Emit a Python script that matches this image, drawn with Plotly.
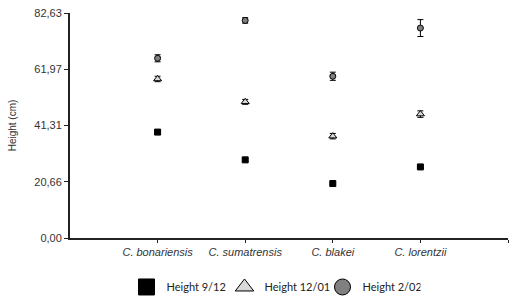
import plotly.graph_objects as go

categories = ["C. bonariensis", "C. sumatrensis", "C. blakei", "C. lorentzii"]
cat_pos = [1, 2, 3, 4]

h_912 = [38.9, 28.7, 20.0, 26.1]
h_912_err = [0.5, 0.5, 0.4, 0.4]
h_1201 = [58.4, 50.0, 37.4, 45.5]
h_1201_err = [1.0, 0.9, 1.0, 1.2]
h_202 = [66.0, 79.9, 59.4, 77.1]
h_202_err = [1.3, 1.0, 1.5, 3.1]

y_tickvals = [0, 20.66, 41.31, 61.97, 82.63]
y_ticktext = ["0,00", "20,66", "41,31", "61,97", "82,63"]

series = [
    ("Height 9/12", h_912, h_912_err, "square", "#000000", 6),
    ("Height 12/01", h_1201, h_1201_err, "triangle-up", "#d9d9d9", 7),
    ("Height 2/02", h_202, h_202_err, "circle", "#808080", 6),
]

fig = go.Figure()
for name, vals, errs, sym, col, sz in series:
    fig.add_trace(go.Scatter(
        x=cat_pos, y=vals, mode="markers", showlegend=False,
        marker=dict(symbol=sym, size=sz, color=col, line=dict(color="#000000", width=1)),
        error_y=dict(type="data", array=errs, color="#000000", thickness=1, width=3),
    ))
    fig.add_trace(go.Scatter(
        x=[None], y=[None], mode="markers", name=name,
        marker=dict(symbol=sym, size=16, color=col, line=dict(color="#000000", width=1)),
    ))

fig.update_layout(
    width=528, height=304,
    margin=dict(l=70, r=20, t=13, b=66),
    paper_bgcolor="white", plot_bgcolor="white",
    font=dict(family="Liberation Sans, Arial, sans-serif", size=11, color="#333333"),
    legend=dict(
        orientation="h", xref="container", yref="container",
        x=0.518, xanchor="center", y=0.056, yanchor="middle",
        font=dict(family="Lato, sans-serif", size=11, color="#222222"),
        itemsizing="trace", tracegroupgap=0, entrywidth=53,
    ),
    xaxis=dict(
        range=[0, 5], tickvals=cat_pos + [5], automargin=False,
        ticktext=["<i>" + c + "</i>" for c in categories] + [""],
        showgrid=False, zeroline=False, showline=True, linecolor="#222222", linewidth=2,
        ticks="outside", ticklen=3, tickcolor="#222222", tickwidth=1,
        tickfont=dict(family="Liberation Sans, Arial, sans-serif", size=11, color="#333333"),
    ),
    yaxis=dict(
        range=[0, 82.63], tickvals=y_tickvals, ticktext=y_ticktext, automargin=False,
        showgrid=False, zeroline=False, showline=True, linecolor="#222222", linewidth=2,
        ticks="outside", ticklen=4, tickcolor="#222222", tickwidth=1,
        tickfont=dict(family="Liberation Sans, Arial, sans-serif", size=11, color="#333333"),
        title=dict(text="Height (cm)", font=dict(family="Liberation Sans, Arial, sans-serif", size=10, color="#333333"), standoff=16),
    ),
)

fig.write_html("out.html")
